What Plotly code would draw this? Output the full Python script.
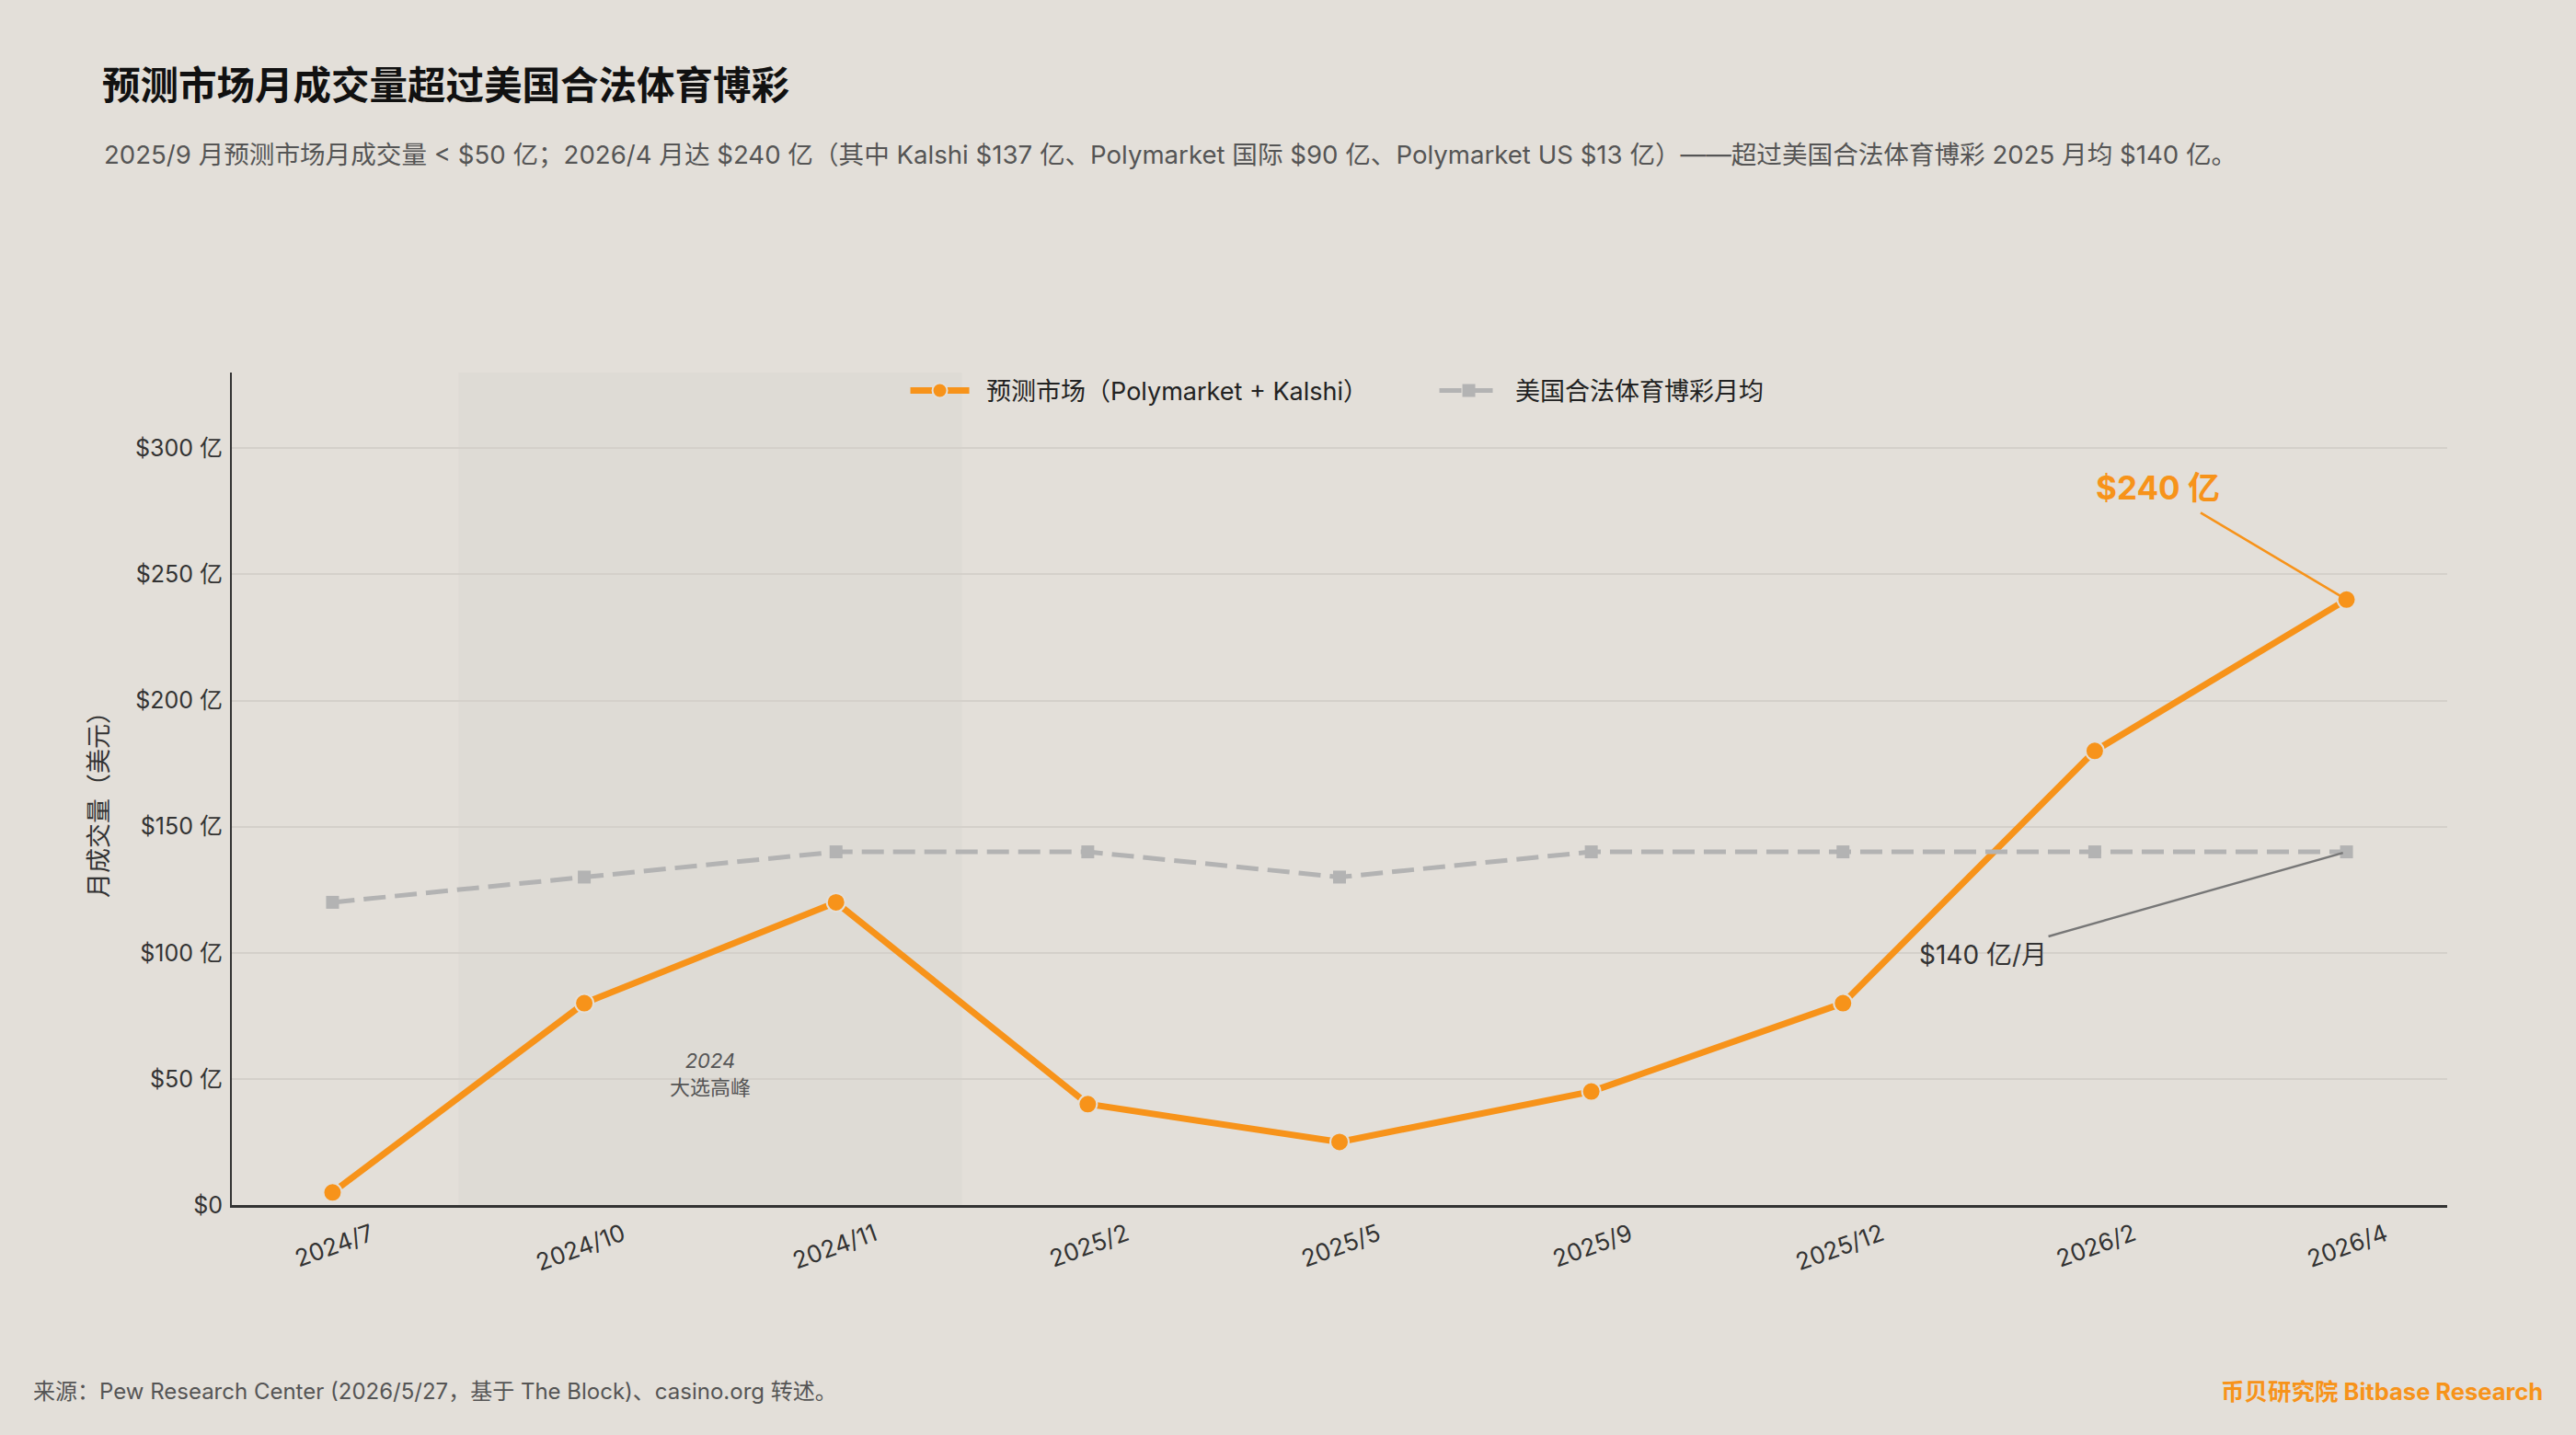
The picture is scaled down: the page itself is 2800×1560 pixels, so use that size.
import plotly.graph_objects as go

months = ["2024/7", "2024/10", "2024/11", "2025/2", "2025/5", "2025/9", "2025/12", "2026/2", "2026/4"]
prediction = [5, 80, 120, 40, 25, 45, 80, 180, 240]
sports = [120, 130, 140, 140, 130, 140, 140, 140, 140]
y_ticks = [0, 50, 100, 150, 200, 250, 300]
y_tick_text = ["$0", "$50 亿", "$100 亿", "$150 亿", "$200 亿", "$250 亿", "$300 亿"]

BG = "#e3dfd9"
ORANGE = "#f7931a"
GRAY = "#b3b3b3"
FONT = "Inter, Noto Sans CJK SC, sans-serif"

fig = go.Figure()

fig.add_trace(go.Scatter(
    x=months, y=prediction, mode="lines+markers",
    name="\u2002预测市场（Polymarket + Kalshi）",
    line=dict(color=ORANGE, width=7),
    marker=dict(symbol="circle", size=20, color=ORANGE, line=dict(color=BG, width=2)),
))
fig.add_trace(go.Scatter(
    x=months, y=sports, mode="lines+markers",
    name="\u2002美国合法体育博彩月均",
    line=dict(color=GRAY, width=5, dash="24px,10px"),
    marker=dict(symbol="square", size=14, color=GRAY),
))

fig.add_shape(type="rect", xref="x", yref="paper", x0=0.5, x1=2.5, y0=0, y1=1,
              fillcolor="#dedbd5", line=dict(width=0), layer="below")

W, H = 2800, 1560
L, R, T, B = 252, 140, 405, 250
pw = W - L - R
ph = H - T - B

def px(xpix):
    return (xpix - L) / pw

def py(ypix):
    return (H - B - ypix) / ph

annotations = [
    dict(xref="paper", yref="paper", x=px(111), y=py(168), xanchor="left", yanchor="middle",
         text="2025/9 月预测市场月成交量 < $50 亿；2026/4 月达 $240 亿（其中 Kalshi $137 亿、Polymarket 国际 $90 亿、Polymarket US $13 亿）——超过美国合法体育博彩 2025 月均 $140 亿。",
         showarrow=False, font=dict(size=27.6, color="#555555", family=FONT)),
    dict(xref="paper", yref="paper", x=px(107), y=py(868), xanchor="center", yanchor="middle",
         text="月成交量（美元）", textangle=-90, showarrow=False,
         font=dict(size=27, color="#333333", family=FONT)),
    dict(xref="paper", yref="paper", x=px(34), y=py(1512), xanchor="left", yanchor="middle",
         text="来源：Pew Research Center (2026/5/27，基于 The Block)、casino.org 转述。",
         showarrow=False, font=dict(size=24, color="#555555", family=FONT)),
    dict(xref="paper", yref="paper", x=px(2766), y=py(1512), xanchor="right", yanchor="middle",
         text="<b>币贝研究院 Bitbase Research</b>",
         showarrow=False, font=dict(size=25.5, color=ORANGE, family=FONT)),
    dict(xref="x", yref="y", x=1.5, y=52, xanchor="center", yanchor="middle",
         text="<i>2024</i><br>大选高峰", showarrow=False,
         font=dict(size=22, color="#555555", family=FONT)),
    dict(xref="x", yref="y", x=months[8], y=prediction[8], ax=-205, ay=-122,
         text="<b>$240 亿</b>", showarrow=True, arrowhead=0, arrowwidth=2.5, arrowcolor=ORANGE,
         standoff=4, startstandoff=10,
         font=dict(size=35, color=ORANGE, family=FONT)),
    dict(xref="x", yref="y", x=months[8], y=sports[8], ax=-395, ay=112,
         text="$140 亿/月", showarrow=True, arrowhead=0, arrowwidth=2.5, arrowcolor="#777777",
         standoff=4, startstandoff=6,
         font=dict(size=28, color="#333333", family=FONT)),
]

fig.update_layout(
    width=W, height=H,
    paper_bgcolor=BG, plot_bgcolor=BG,
    margin=dict(l=L, r=R, t=T, b=B, autoexpand=False),
    font=dict(family=FONT, color="#333333"),
    title=dict(text="<b>预测市场月成交量超过美国合法体育博彩</b>", xref="container", yref="container",
               x=111 / W, y=1 - 93 / H, xanchor="left", yanchor="middle",
               font=dict(size=41.5, color="#111111", family=FONT)),
    showlegend=True,
    legend=dict(orientation="h", x=0.543, xanchor="center", y=py(425), yanchor="middle",
                bgcolor="rgba(0,0,0,0)", font=dict(size=27, color="#222222", family=FONT),
                itemwidth=64, tracegroupgap=0, entrywidth=496, entrywidthmode="pixels"),
    annotations=annotations,
    xaxis=dict(type="category", range=[-0.4, 8.4], showgrid=False, tickangle=-20,
               tickfont=dict(size=26, color="#333333", family=FONT),
               showline=True, linecolor="#333333", linewidth=3, ticks="outside", ticklen=4,
               tickcolor="rgba(0,0,0,0)", zeroline=False, ticklabelshift=42),
    yaxis=dict(range=[0, 330], tickvals=y_ticks, ticktext=y_tick_text,
               tickfont=dict(size=25, color="#333333", family=FONT),
               showgrid=True, gridcolor="#d4d0ca", gridwidth=1.5,
               showline=True, linecolor="#333333", linewidth=2, zeroline=False,
               ticks="outside", ticklen=3, tickcolor="rgba(0,0,0,0)"),
)

fig.write_html("out.html")
